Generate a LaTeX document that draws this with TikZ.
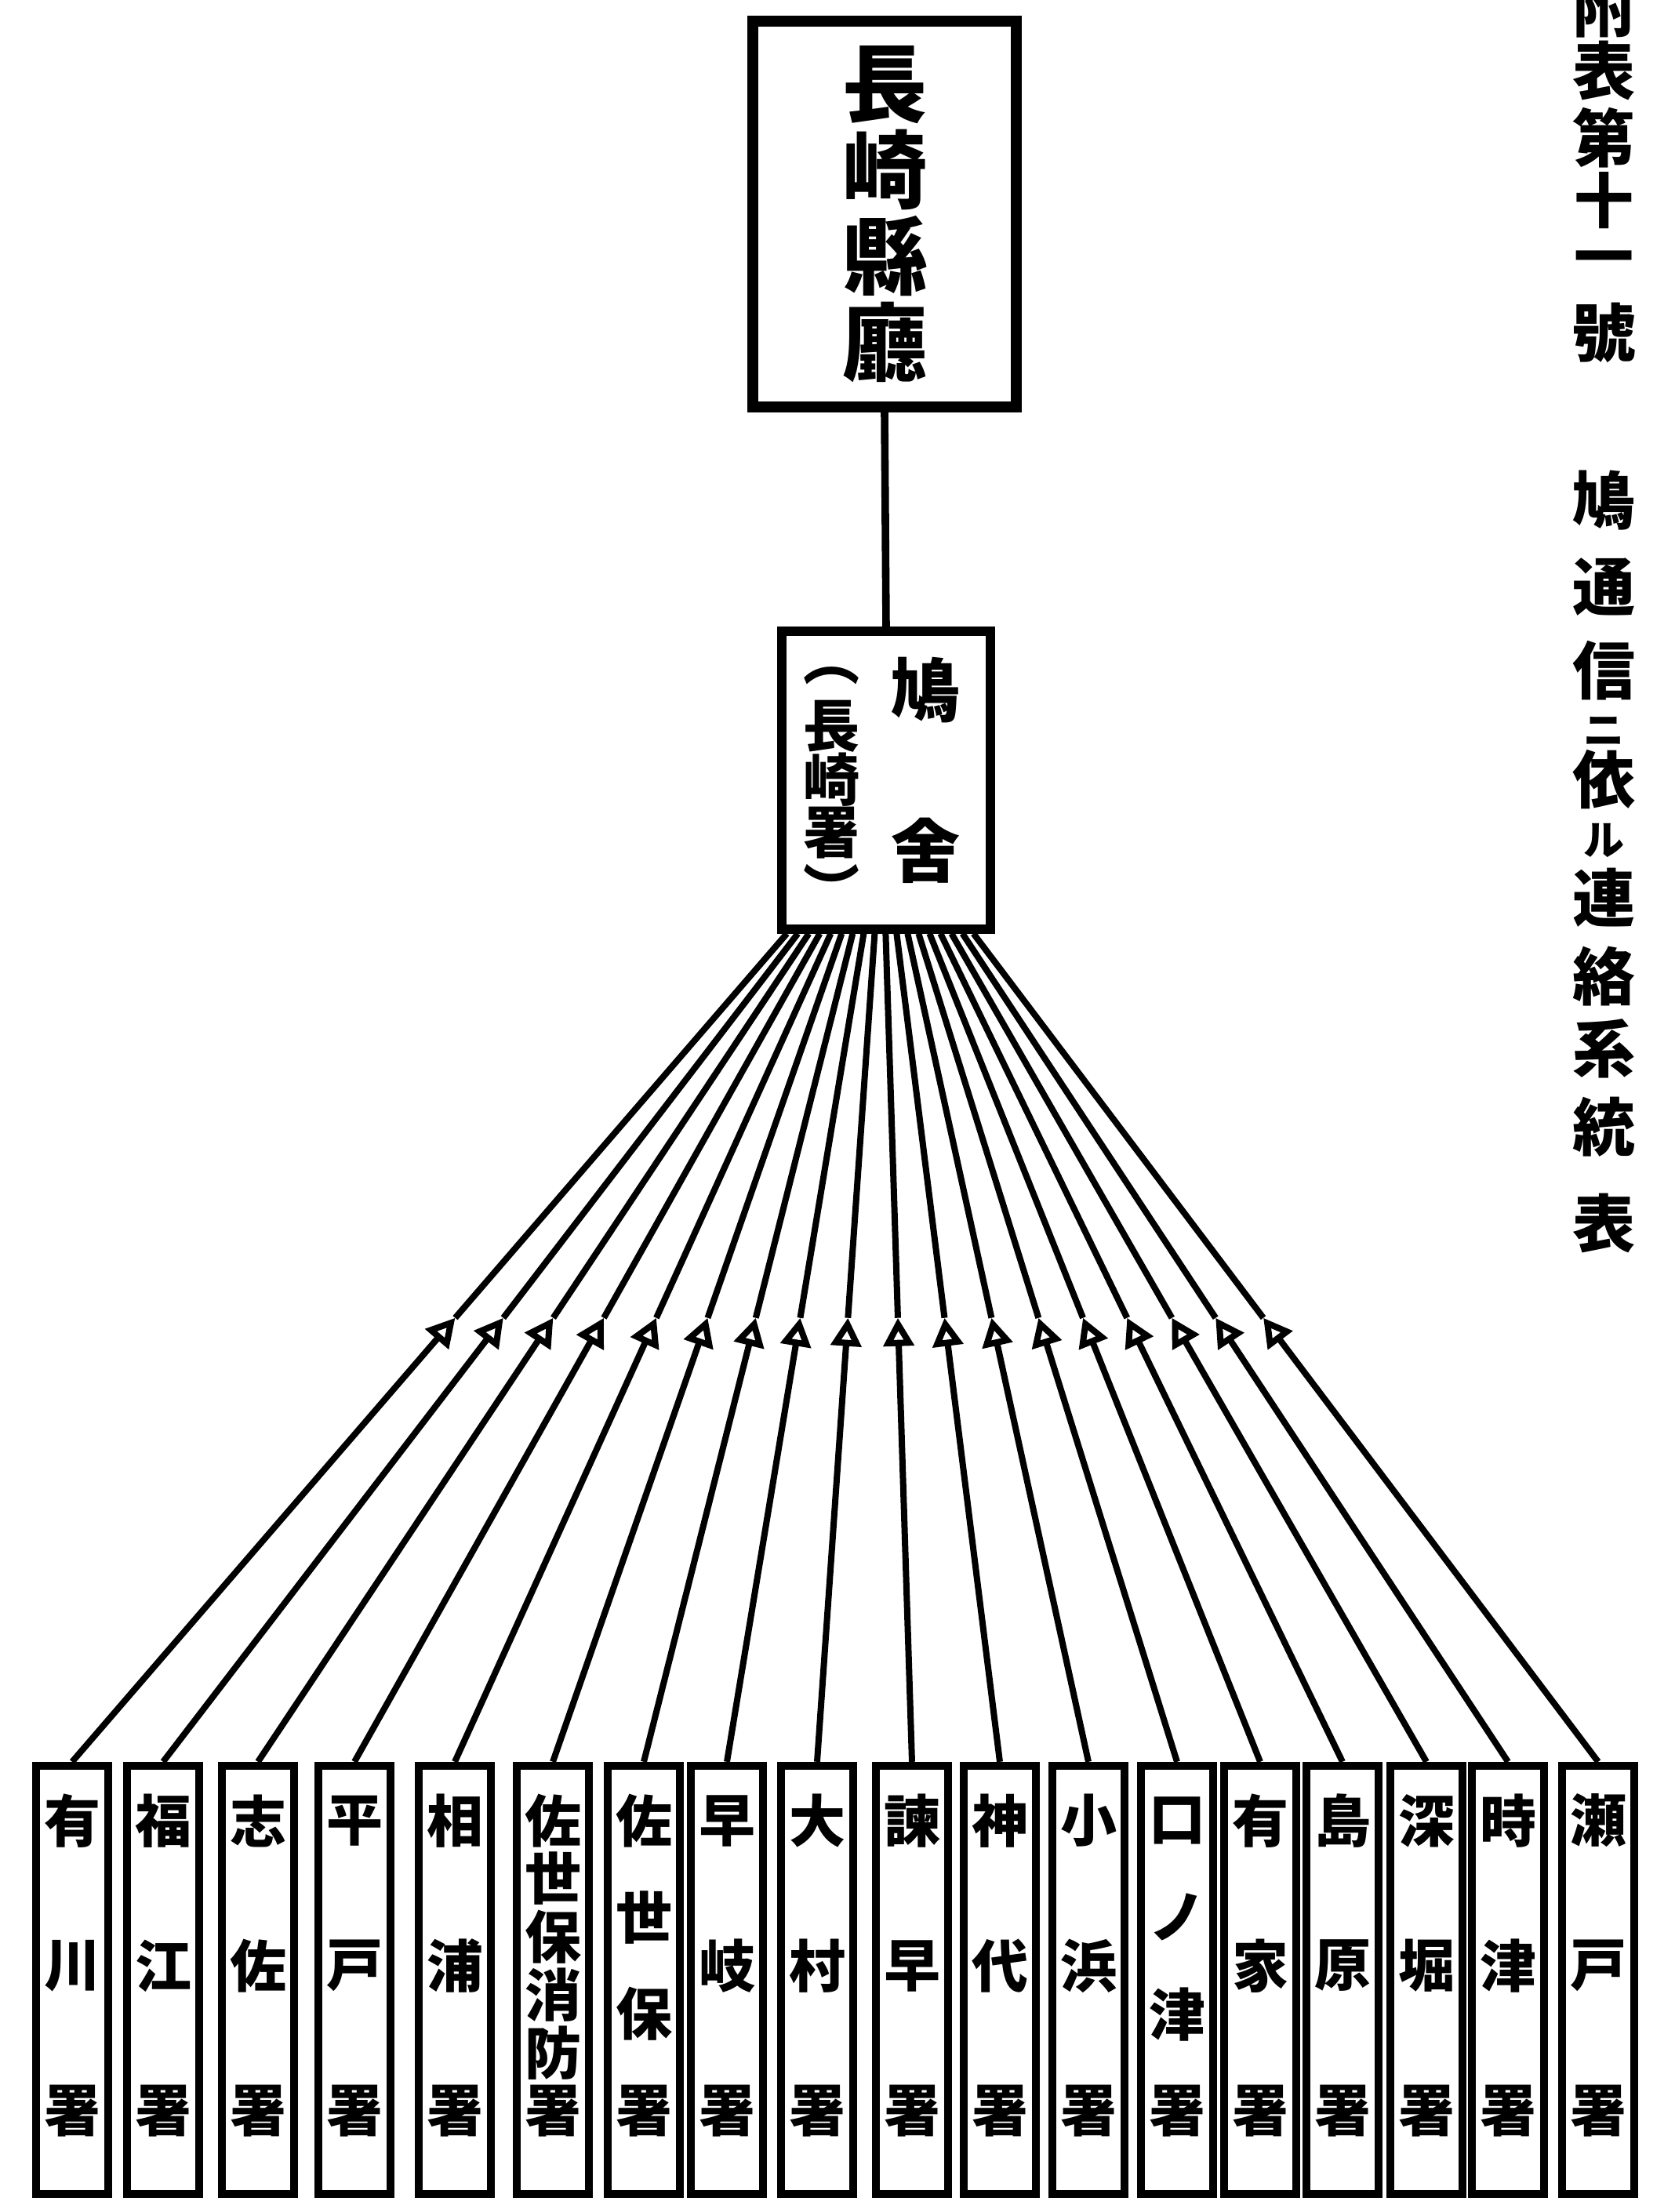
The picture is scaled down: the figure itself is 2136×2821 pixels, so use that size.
\documentclass[tikz,border=0pt]{standalone}
\usepackage{fontspec}
\setmainfont{Noto Sans CJK JP}
\usetikzlibrary{calc,arrows.meta}

\begin{document}
\begin{tikzpicture}[x=0.25pt, y=-0.25pt,
  box/.style={draw, line width=2.6pt, minimum width=23pt, minimum height=136.5pt, inner sep=0pt},
  kan/.style={font=\fontsize{18}{18}\selectfont\bfseries, inner sep=0pt},
  wire/.style={line width=2pt},
  pigeon/.style={line width=2pt, -{Triangle[width=9.5pt,length=9pt,fill=white,line width=2pt]}}]
\useasboundingbox (0,0) rectangle (2136,2821);
\node [draw, line width=3.5pt, minimum width=84pt, minimum height=123pt, align=center, font=\fontsize{27}{27.5}\selectfont\bfseries] (z) at (1128,273) {長\\崎\\縣\\廳};
\node [draw, line width=2.8pt, minimum width=66.5pt, minimum height=95pt] (a) at (1130,995) {};
\draw [line width=2.4pt] (z.south) -- (a.north);
\node [kan, font=\fontsize{22}{22}\selectfont\bfseries] (b) at (1180,880) {鳩};
\node [kan, font=\fontsize{22}{22}\selectfont\bfseries] (c) at (1180,1085) {舍};
\foreach \y/\c [count=\k] in {862/︵, 926/長, 994/崎, 1062/署, 1132/︶}
  \node [kan] (p\k) at (1060,\y) {\c};
% stations
\foreach \x/\n/\t [count=\i] in {92/3/{有,川,署}, 208/3/{福,江,署}, 329/3/{志,佐,署}, 452/3/{平,戸,署}, 580/3/{相,浦,署}, 705/6/{佐,世,保,消,防,署}, 821/4/{佐,世,保,署}, 927/3/{早,岐,署}, 1042/3/{大,村,署}, 1163/3/{諫,早,署}, 1275/3/{神,代,署}, 1388/3/{小,浜,署}, 1501/4/{口,ノ,津,署}, 1607/3/{有,家,署}, 1712/3/{島,原,署}, 1819/3/{深,堀,署}, 1923/3/{時,津,署}, 2038/3/{瀬,戸,署}} {
  \node [box] (s\i) at (\x,2525) {};
  \foreach \c [count=\k] in \t
    \node [kan] (s\i-\k) at (\x,{2322+(\k-1)*370/(\n-1)}) {\c};
  \coordinate (e\i) at ($(a.south west)+({12+(\i-1)*14},0)$);
  \coordinate (m\i) at ($(s\i.north)!0.536!(e\i)$);
  \draw [wire] (m\i) -- (e\i);
  \draw [pigeon] (s\i.north) -- (m\i);
}
% title
\foreach \y/\c/\s [count=\k] in {10/附/20, 90/表/20, 176/第/20, 256/十/19, 338/一/19, 424/號/20, 638/鳩/20, 749/通/20, 855/信/20, 932/ニ/13, 994/依/20, 1072/ル/13, 1145/連/20, 1245/絡/20, 1337/系/20, 1437/統/20, 1560/表/20}
  \node [kan, font=\fontsize{\s}{\s}\selectfont\bfseries] (r\k) at (2045,\y) {\c};
\end{tikzpicture}
\end{document}
